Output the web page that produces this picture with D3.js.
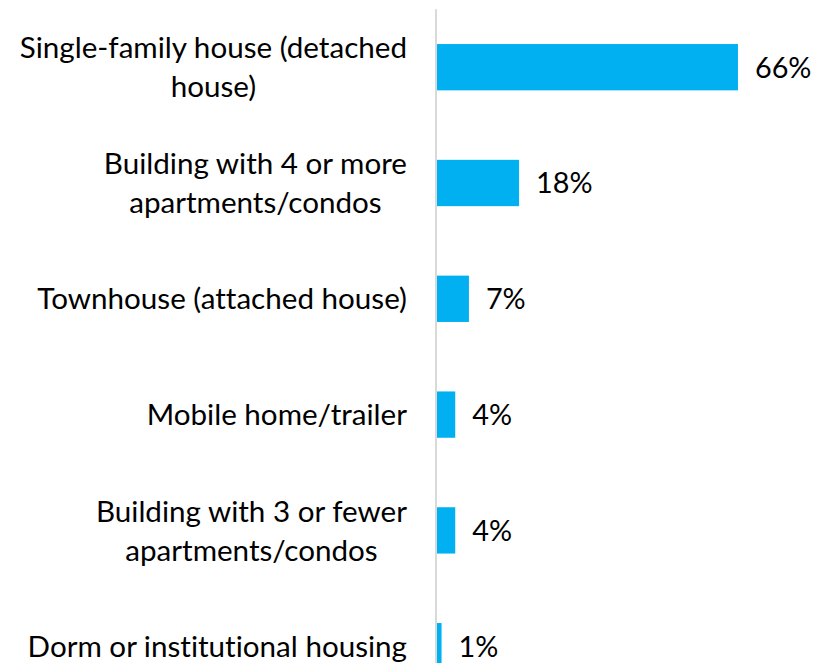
<!DOCTYPE html>
<html>
<head>
<meta charset="utf-8">
<script src="https://cdn.jsdelivr.net/npm/d3@7"></script>
<style>
  html, body { margin: 0; padding: 0; background: #fff; }
  svg { display: block; }
  text { font-family: Lato, "Open Sans", sans-serif; fill: #000; font-variant-ligatures: none; }
</style>
</head>
<body>
<svg id="chart" width="815" height="663"></svg>
<script>
// Housing type shares (percent of respondents)
const categories = [
  ["Single-family house (detached", "house)"],
  ["Building with 4 or more", "apartments/condos"],
  ["Townhouse (attached house)"],
  ["Mobile home/trailer"],
  ["Building with 3 or fewer", "apartments/condos"],
  ["Dorm or institutional housing"]
];
const values = [66, 18, 7, 4, 4, 1];
const valueLabels = ["66%", "18%", "7%", "4%", "4%", "1%"];

const width = 815, height = 663;
const fontSize = 29.6;
const valueFontSize = 28.8;
const lineGap = 39;
const labelRight = 407;

const svg = d3.select("#chart");

const keys = categories.map((c, i) => i);

const y = d3.scaleBand()
  .domain(keys)
  .range([9.3, 704.1])
  .paddingInner(0.6)
  .paddingOuter(0.3);

const x = d3.scaleLinear()
  .domain([0, 100])
  .range([437, 437 + 456]);

// Bars
svg.append("g")
  .selectAll("rect")
  .data(values)
  .join("rect")
  .attr("x", x(0))
  .attr("y", (d, i) => y(i))
  .attr("width", d => x(d) - x(0))
  .attr("height", y.bandwidth())
  .attr("fill", "#00b0f0");

// Category axis line
svg.append("line")
  .attr("x1", 436).attr("x2", 436)
  .attr("y1", y.range()[0]).attr("y2", y.range()[1])
  .attr("stroke", "#d9d9d9")
  .attr("stroke-width", 2);

// Category labels: each block is right-aligned to the axis, wrapped lines centred within it
const labelG = svg.append("g");
categories.forEach((lines, i) => {
  const cy = y(i) + y.bandwidth() / 2;
  const n = lines.length;
  const g = labelG.append("g");
  const texts = lines.map((ln, j) => g.append("text")
    .attr("y", cy + (j - (n - 1) / 2) * lineGap)
    .attr("dy", "0.36em")
    .attr("text-anchor", "middle")
    .attr("font-size", fontSize)
    .text(ln));
  const blockW = d3.max(texts, t => t.node().getComputedTextLength());
  texts.forEach(t => t.attr("x", labelRight - blockW / 2));
});

// Value labels at bar ends
svg.append("g")
  .selectAll("text")
  .data(values)
  .join("text")
  .attr("x", d => x(d) + 17)
  .attr("y", (d, i) => y(i) + y.bandwidth() / 2)
  .attr("dy", "0.36em")
  .attr("font-size", valueFontSize)
  .text((d, i) => valueLabels[i]);
</script>
</body>
</html>
